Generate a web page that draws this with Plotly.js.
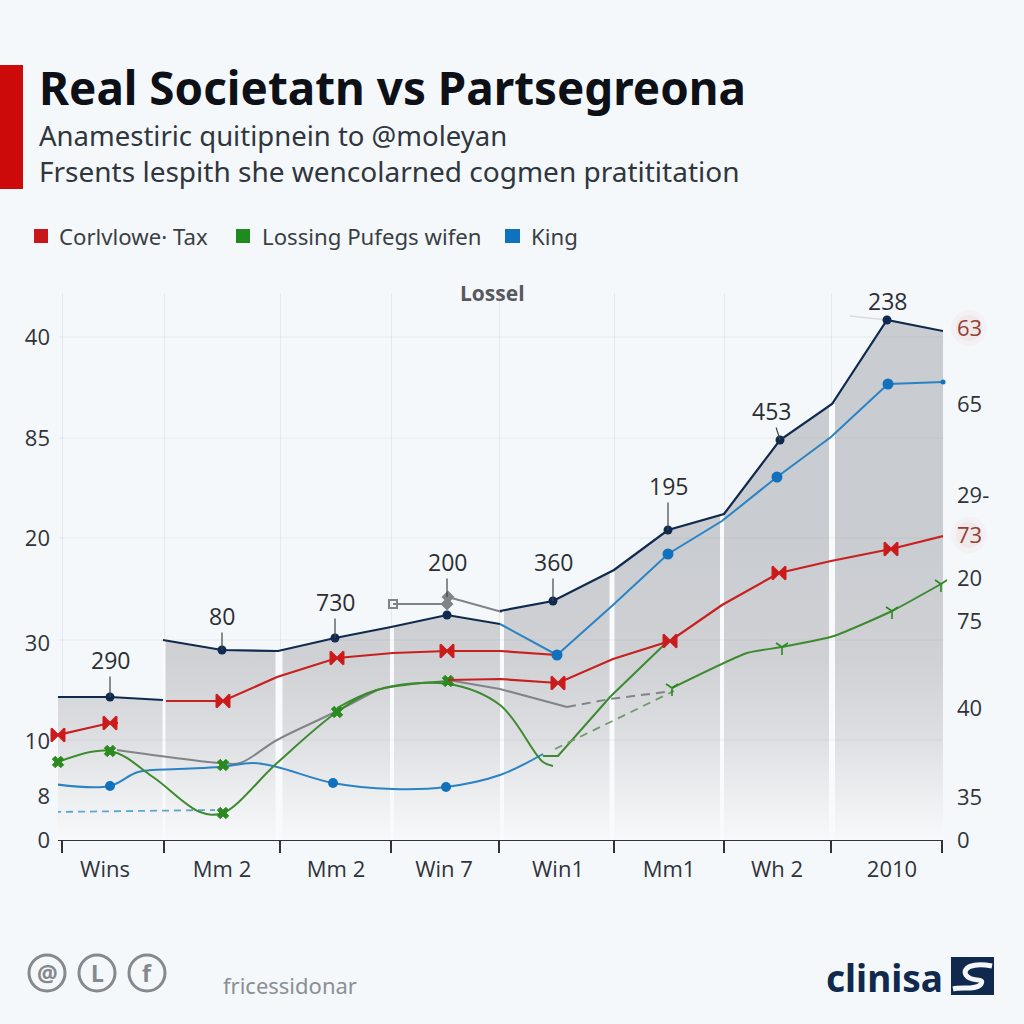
<!DOCTYPE html>
<html><head><meta charset="utf-8">
<script src="https://cdn.plot.ly/plotly-3.0.1.min.js"></script>
<style>html,body{margin:0;padding:0;background:#f5f8fb}#c{width:1024px;height:1024px}</style>
</head><body><div id="c"></div><script>
// Text
const titleText="Real Societatn vs Partsegreona";
const subtitle1="Anamestiric quitipnein to @moleyan";
const subtitle2="Frsents lespith she wencolarned cogmen pratititation";
const legendNames=["Corlvlowe· Tax","Lossing Pufegs wifen","King"];
// Axes
const xTickVals=[4,106,222,333,441,556,666,773,884];
const xLabelVals=[47,164,278,386,500,611,719,834];
const xLabels=["Wins","Mm 2","Mm 2","Win 7","Win1","Mm1","Wh 2","2010"];
const yLeftVals=[503,402,302,197,99,44,0];
const yLeftLabels=["40","85","20","30","10","8","0"];
const yRightVals=[512,436,345,305,262,219,132,43,0];
const yRightLabels=["63","65","29-","73","20","75","40","35","0"];
const gridVals=[503,402,302,200,100];
// Navy series
const navyX1=[0,52,105],navyY1=[143,143,140];
const navyX2=[105,164,220,277,333,389,442],navyY2=[200,190,189,202,213,225,216];
const navyX3=[442,495,556,610,666,722,774,829,885],navyY3=[229,239,270,310,326,400,436,520,509];
const navyMX=[52,164,277,389,495,610,722,829],navyMY=[143,190,202,225,239,310,400,520];
// Gaps between the shaded bands
const gapX=[106,221,334,444,554,664,774],gapTop=[200,189,213,229,270,326,436],gapW=[3,7,4,4,5,4,6];
// Blue series
const blueX1=[442,499,555,610,664,719,773,830,885],blueY1=[216,185,235,286,319,363,403,456,458];
const blueMX1=[499,610,719,830],blueMY1=[185,286,363,456];
const blueX2=[-5,52,80,120,162,195,219,275,335,388,442,485],blueY2=[56,54,68,71,73,77,73,57,51,53,65,86];
const blueMX2=[52,275,388],blueMY2=[54,57,53];
const blueDX=[-4,157],blueDY=[28,30];
// Red series
const redX1=[0,52,60],redY1=[105,117,117];
const redX2=[108,165,219,279,335,389,442,499],redY2=[139,139,163,182,187,189,189,185];
const redX3=[390,442,500,555,612,664,721,773,833,885],redY3=[160,161,157,181,199,235,267,279,291,304];
const redMX=[0,52,165,279,389,500,612,721,833],redMY=[105,117,139,182,189,157,199,267,291];
// Green series
const greenX1=[0,52,95,142,165,219,279,319,390,442,485,495],greenY1=[78,89,63,28,27,77,128,150,156,135,78,74];
const greenX2=[279,319,390],greenY2=[132,150,159];
const greenX3=[485,500,552,609],greenY3=[84,84,143,198];
const greenDX=[497,616],greenDY=[91,149];
const greenX5=[614,689,724,776,834,883],greenY5=[152,187,193,204,229,256];
const greenMX=[0,52,165,165,279,390],greenMY=[78,89,27,75,128,159];
const greenThinX=[614,724,834,883],greenThinY=[152,193,229,256];
// Grey series
const greyX1=[59,162,182,219,275,319],greyY1=[90,77,77,100,127,150];
const greyX2=[390,442,509],greyY2=[160,151,133];
const greyDX=[509,552,615],greyDY=[133,141,149];
const greyX3=[335,389],greyY3=[236,236];
const greyX4=[390,444],greyY4=[243,228];
// Callouts
const calloutX=[52,164,277,389,495,610,722],calloutY=[143,190,202,243,239,310,400];
const calloutText=["290","80","730","200","360","195","453"];
const calloutAX=[0,0,0,0,0,0,-9],calloutAY=[-37,-34,-36,-35,-39,-44,-29];
const peakLabel="238",peakX=829,peakY=520;
const leaderX=[792,829],leaderY=[524,520];

const L=58,T=293,W=885,H=547;
const px=v=>(v-L)/W, py=v=>(T+H-v)/H;
const NAVY="#10294e",RED="#c8201f",GREEN="#3d8a2f",BLUE="#2a83c4",GREY="#808488",BG="#f5f8fb";
const FONT="'Open Sans',sans-serif",NOTO="'Noto Sans',sans-serif";

function line(x,y,color,width,extra){return {x,y,mode:"lines",type:"scatter",cliponaxis:false,hoverinfo:"skip",line:Object.assign({color,width},extra||{})};}
function marks(x,y,color,symbol,size,lw){return {x,y,mode:"markers",type:"scatter",cliponaxis:false,hoverinfo:"skip",marker:{color,symbol,size,line:{color,width:lw||0}}};}

const traces=[];
traces.push({x:navyX1.concat(navyX2,navyX3),y:navyY1.concat(navyY2,navyY3),type:"scatter",mode:"none",fill:"tozeroy",hoverinfo:"skip",
  fillgradient:{type:"vertical",start:0,stop:300,colorscale:[[0,"#f6f8fa"],[0.15,"#eceef0"],[0.35,"#dcdee1"],[0.6,"#cfd1d5"],[1,"#c9ccd0"]]}});
gapX.forEach((g,i)=>traces.push(line([g,g],[0,gapTop[i]],"#f8fafc",gapW[i])));
traces.push(line(leaderX,leaderY,"#d8dce1",1.5));
traces.push(line(greyX1,greyY1,GREY,2,{shape:"spline"}));
traces.push(line(greyX2,greyY2,GREY,2));
traces.push(line(greyDX,greyDY,GREY,2,{dash:"9px,6px"}));
traces.push(line(greyX3,greyY3,GREY,2));
traces.push(line(greyX4,greyY4,GREY,2));
traces.push(marks([greyX3[0]],[greyY3[0]],GREY,"square-open",8,2));
traces.push(marks([greyX3[1],greyX4[0]],[greyY3[1],greyY4[0]],GREY,"diamond",10));
traces.push(line(blueDX,blueDY,"#5fa6cf",1.8,{dash:"7px,5px"}));
traces.push(marks([blueDX[0]],[blueDY[0]],"#5fa6cf","circle-open",8,1.2));
traces.push(line(blueX2,blueY2,BLUE,2,{shape:"spline",smoothing:1}));
traces.push(marks(blueMX2,blueMY2,"#1271bd","circle",10));
traces.push(marks([blueX2[0]],[blueY2[0]],"#ffffff","circle",7));
traces.push(line(greenX1,greenY1,GREEN,2,{shape:"spline",smoothing:1}));
traces.push(line(greenX2,greenY2,GREEN,2,{shape:"spline"}));
traces.push(line(greenX3,greenY3,GREEN,2));
traces.push(line(greenDX,greenDY,"#6f9a68",1.8,{dash:"8px,6px"}));
traces.push(line(greenX5,greenY5,GREEN,2,{shape:"spline",smoothing:0.5}));
traces.push(marks(greenMX,greenMY,"#2a8a20","x",10,1));
traces.push(marks(greenThinX,greenThinY,"#2a8a20","y-down-open",10,1.6));
traces.push(line(redX1,redY1,RED,2.2));
traces.push(line(redX2,redY2,RED,2.2));
traces.push(line(redX3,redY3,RED,2.2));
traces.push(marks(redMX,redMY,"#cc1b1b","bowtie",13,2));
traces.push(line(blueX1,blueY1,BLUE,2));
traces.push(marks(blueMX1,blueMY1,"#1271bd","circle",11));
traces.push(marks([blueX1[8]],[blueY1[8]],"#1271bd","circle",5));
traces.push(line(navyX1,navyY1,NAVY,2.2));
traces.push(line(navyX2,navyY2,NAVY,2.2));
traces.push(line(navyX3,navyY3,NAVY,2.2));
traces.push(marks(navyMX,navyMY,NAVY,"circle",9));
// carries the secondary axes (right labels, category labels)
traces.push({x:[xLabelVals[0]],y:[yRightVals[0]],xaxis:"x2",yaxis:"y2",type:"scatter",mode:"markers",hoverinfo:"skip",marker:{size:1,color:"rgba(0,0,0,0)"}});

function text(t,x,y,size,color,opt){return Object.assign({text:t,xref:"paper",yref:"paper",x:px(x),y:py(y),xanchor:"left",yanchor:"middle",showarrow:false,font:{family:NOTO,size,color}},opt||{});}
const annotations=[
  text("<b>"+titleText+"</b>",37,87,45.8,"#0d1117"),
  text(subtitle1,37,135.5,27.5,"#30363d"),
  text(subtitle2,37,171,28,"#30363d"),
  text(legendNames[0],57,236,22.2,"#3a3f45"),
  text(legendNames[1],260,236,22.2,"#3a3f45"),
  text(legendNames[2],529,236,22.2,"#3a3f45"),
  text("<b>Lossel</b>",492,293,21,"#555a60",{xanchor:"center",font:{family:FONT,size:21,color:"#555a60"}}),
  text("fricessidonar",221,985,22,"#8a8f94"),
  text("<b>@</b>",47,973,23,"#85898d",{xanchor:"center"}),
  text("<b>L</b>",97,973,23,"#85898d",{xanchor:"center"}),
  text("<b>f</b>",147,973,23,"#85898d",{xanchor:"center"}),
  text("<b>clinisa</b>",824,977,37,"#10294e")
];
calloutText.forEach((t,i)=>annotations.push({x:calloutX[i],y:calloutY[i],xref:"x",yref:"y",text:t,showarrow:true,arrowhead:0,arrowwidth:1.2,arrowcolor:"#444",ax:calloutAX[i],ay:calloutAY[i],borderpad:0,standoff:0,font:{family:FONT,size:23,color:"#2b2f33"}}));
annotations.push({x:peakX,y:peakY,xref:"x",yref:"y",text:peakLabel,showarrow:false,yshift:19,font:{family:FONT,size:23,color:"#2b2f33"}});

function rect(x0,y0,x1,y1,fill){return {type:"rect",xref:"paper",yref:"paper",x0:px(x0),x1:px(x1),y0:py(y0),y1:py(y1),fillcolor:fill,line:{width:0}};}
function circ(cx,cy,r,fill,stroke,w){return {type:"circle",xref:"paper",yref:"paper",x0:px(cx-r),x1:px(cx+r),y0:py(cy+r),y1:py(cy-r),fillcolor:fill,line:{color:stroke,width:w}};}
const P=(x,y)=>px(x).toFixed(4)+","+py(y).toFixed(4);
const shapes=[
  rect(0,65,23,189,"#cc0a0a"),
  rect(34,229,48,243,"#c8161a"),rect(236,229,250,243,"#1f8a1f"),rect(505,229,520,243,"#0f72bd"),
  circ(47,973,18,"rgba(0,0,0,0)","#85898d",3),circ(97,973,18,"rgba(0,0,0,0)","#85898d",3),circ(147,973,18,"rgba(0,0,0,0)","#85898d",3),
  rect(951,957,994,995,"#10294e"),
  {type:"path",xref:"paper",yref:"paper",line:{color:BG,width:5},
   path:"M "+P(992,966)+" C "+P(972,962)+" "+P(962,968)+" "+P(966,975)+" C "+P(971,983)+" "+P(985,977)+" "+P(981,984)+" C "+P(977,990)+" "+P(962,987)+" "+P(953,989)},
  circ(969,328,18,"rgba(225,110,90,0.05)","rgba(0,0,0,0)",0),circ(969,328,13,"rgba(225,110,90,0.06)","rgba(0,0,0,0)",0),
  circ(969,535,18,"rgba(225,110,90,0.05)","rgba(0,0,0,0)",0),circ(969,535,13,"rgba(225,110,90,0.06)","rgba(0,0,0,0)",0)
];
gridVals.forEach(v=>shapes.push({type:"line",xref:"x",yref:"y",x0:0,x1:W,y0:v,y1:v,layer:"above",line:{color:"rgba(120,130,140,0.12)",width:1}}));

const tickFont={family:FONT,size:22,color:"#30343a"};
const layout={width:1024,height:1024,showlegend:false,paper_bgcolor:BG,plot_bgcolor:"rgba(0,0,0,0)",
  margin:{l:L,t:T,r:1024-L-W,b:1024-T-H,pad:0},hovermode:false,
  xaxis:{range:[0,W],tickmode:"array",tickvals:xTickVals,ticktext:xTickVals.map(()=>""),ticks:"outside",ticklen:12,tickcolor:"#333",tickwidth:1.2,showline:true,linecolor:"#333",linewidth:1.2,showgrid:true,gridcolor:"#e5e9ee",gridwidth:1,zeroline:false},
  xaxis2:{range:[0,W],overlaying:"x",side:"bottom",anchor:"y",tickmode:"array",tickvals:xLabelVals,ticktext:xLabels,ticks:"",showgrid:false,showline:false,zeroline:false,tickfont:tickFont,ticklabelstandoff:14},
  yaxis:{range:[0,H],tickmode:"array",tickvals:yLeftVals,ticktext:yLeftLabels,ticks:"",showgrid:false,showline:false,zeroline:false,tickfont:tickFont,ticklabelstandoff:7},
  yaxis2:{range:[0,H],overlaying:"y",side:"right",anchor:"x",tickmode:"array",tickvals:yRightVals,
    ticktext:yRightLabels.map(t=>(t==="63"||t==="73")?'<span style="color:#8b3a34">'+t+'</span>':t),ticks:"",showgrid:false,showline:false,zeroline:false,tickfont:tickFont,ticklabelstandoff:13},
  annotations,shapes};
Plotly.newPlot("c",traces,layout,{displayModeBar:false,staticPlot:true});
</script></body></html>
